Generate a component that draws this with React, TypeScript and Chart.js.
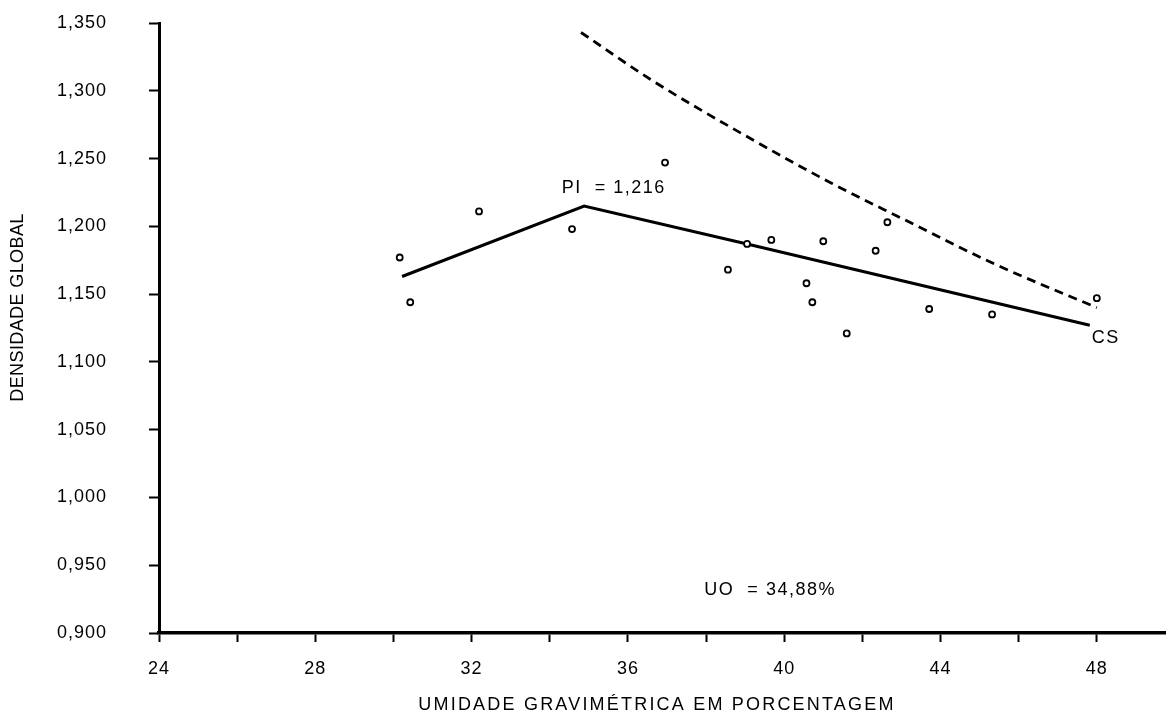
import React, { useEffect, useRef } from "react";
import { Chart, registerables } from "chart.js";

Chart.register(...registerables);

// ---- data ----
const xTickValues = [24, 26, 28, 30, 32, 34, 36, 38, 40, 42, 44, 46, 48];
const yTickValues = [0.9, 0.95, 1.0, 1.05, 1.1, 1.15, 1.2, 1.25, 1.3, 1.35];

const pointX = [30.16, 30.43, 32.19, 34.57, 36.95, 38.56, 39.05, 39.67, 40.57, 40.72, 41.0, 41.6, 42.34, 42.64, 43.71, 45.32, 48.0];
const pointY = [1.177, 1.144, 1.211, 1.198, 1.247, 1.168, 1.187, 1.190, 1.158, 1.144, 1.189, 1.121, 1.182, 1.203, 1.139, 1.135, 1.147];

const fitX = [30.22, 34.88, 39.05, 43.72, 47.82];
const fitY = [1.163, 1.215, 1.187, 1.155, 1.127];

const dashX = [34.8, 36.6, 39.0, 41.2, 43.0, 45.4, 48.0];
const dashY = [1.343, 1.308, 1.267, 1.232, 1.206, 1.172, 1.14];

const annoText = ["PI  = 1,216", "UO  = 34,88%", "CS"];
const annoX = [35.64, 39.64, 47.87];
const annoY = [1.2283, 0.9317, 1.1176];
const annoAlign: CanvasTextAlign[] = ["center", "center", "left"];

const xTitle = "UMIDADE GRAVIMÉTRICA EM PORCENTAGEM";
const yTitle = "DENSIDADE GLOBAL";

const FONT = '"Liberation Sans", Arial, Helvetica, sans-serif';

const zip = (xs: number[], ys: number[]) => xs.map((x, i) => ({ x, y: ys[i] }));

const spacingPlugin = {
  id: "spacing",
  beforeUpdate(chart: any) {
    chart.ctx.letterSpacing = "1px";
  },
  beforeDraw(chart: any) {
    chart.ctx.letterSpacing = "1px";
  },
};

const textPlugin = {
  id: "texts",
  afterDraw(chart: any) {
    const ctx = chart.ctx as CanvasRenderingContext2D;
    const xs = chart.scales.x;
    const ys = chart.scales.y;
    ctx.save();
    ctx.fillStyle = "#000";
    ctx.font = `18px ${FONT}`;
    ctx.textBaseline = "middle";
    (ctx as any).letterSpacing = "1.5px";
    annoText.forEach((t, i) => {
      ctx.textAlign = annoAlign[i];
      ctx.fillText(t, xs.getPixelForValue(annoX[i]), ys.getPixelForValue(annoY[i]));
    });
    // x title
    (ctx as any).letterSpacing = "2.2px";
    ctx.textAlign = "center";
    ctx.fillText(xTitle, 657, 705);
    // y title
    (ctx as any).letterSpacing = "0.4px";
    ctx.translate(18.5, 307.5);
    ctx.rotate(-Math.PI / 2);
    ctx.fillText(yTitle, 0, 0);
    ctx.restore();
  },
};

export default function App() {
  const canvasRef = useRef<HTMLCanvasElement | null>(null);

  useEffect(() => {
    const canvas = canvasRef.current;
    if (!canvas) return;
    const chart = new Chart(canvas, {
      type: "scatter",
      data: {
        datasets: [
          {
            label: "pontos",
            data: zip(pointX, pointY),
            showLine: false,
            pointStyle: "circle",
            pointRadius: 3,
            pointBorderWidth: 1.8,
            borderColor: "#000",
            backgroundColor: "#fff",
            pointBackgroundColor: "#fff",
            pointBorderColor: "#000",
          },
          {
            label: "ajuste",
            data: zip(fitX, fitY),
            showLine: true,
            borderColor: "#000",
            borderWidth: 3,
            pointRadius: 0,
            tension: 0,
          },
          {
            label: "saturação",
            data: zip(dashX, dashY),
            showLine: true,
            borderColor: "#000",
            borderWidth: 2.8,
            borderDash: [9, 6],
            pointRadius: 0,
            cubicInterpolationMode: "monotone",
          },
        ],
      },
      options: {
        responsive: false,
        animation: false,
        devicePixelRatio: 1,
        layout: { padding: { top: 23, right: 0, left: 0, bottom: 0 } },
        plugins: {
          legend: { display: false },
          tooltip: { enabled: false },
          title: { display: false },
        },
        scales: {
          x: {
            type: "linear",
            position: "bottom",
            min: 24,
            max: 49.75,
            afterBuildTicks: (scale: any) => {
              scale.ticks = xTickValues.map((v) => ({ value: v }));
            },
            afterFit: (scale: any) => {
              scale.height = 84;
              scale.paddingLeft = 0;
              scale.paddingRight = 0;
            },
            ticks: {
              autoSkip: false,
              maxRotation: 0,
              minRotation: 0,
              padding: 16,
              color: "#000",
              font: { family: FONT, size: 18 },
              callback: (v: any) => (Number(v) % 4 === 0 ? String(v) : ""),
            },
            grid: {
              drawOnChartArea: false,
              drawTicks: true,
              tickLength: 9,
              tickWidth: 2,
              tickColor: "#000",
            },
            border: { display: true, color: "#000", width: 3.5 },
          },
          y: {
            type: "linear",
            position: "left",
            min: 0.9,
            max: 1.35,
            afterBuildTicks: (scale: any) => {
              scale.ticks = yTickValues.map((v) => ({ value: v }));
            },
            afterFit: (scale: any) => {
              scale.width = 159;
              scale.paddingTop = 0;
              scale.paddingBottom = 0;
            },
            ticks: {
              autoSkip: false,
              padding: 42,
              color: "#000",
              font: { family: FONT, size: 18 },
              callback: (v: any) => Number(v).toFixed(3).replace(".", ","),
            },
            grid: {
              drawOnChartArea: false,
              drawTicks: true,
              tickLength: 10,
              tickWidth: 2,
              tickColor: "#000",
            },
            border: { display: true, color: "#000", width: 3 },
          },
        },
      },
      plugins: [spacingPlugin, textPlugin],
    } as any);
    return () => chart.destroy();
  }, []);

  return (
    <div style={{ position: "absolute", left: 0, top: 0, width: 1171, height: 717, background: "#fff" }}>
      <canvas ref={canvasRef} width={1171} height={717} style={{ display: "block" }} />
    </div>
  );
}
